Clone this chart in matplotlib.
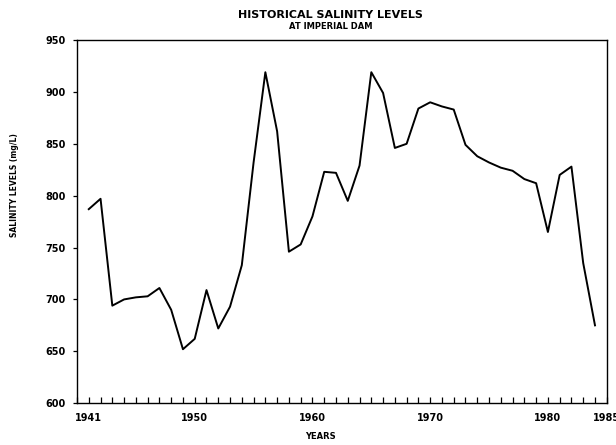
import matplotlib
matplotlib.use("Agg")
import matplotlib.pyplot as plt

# Salinity at Imperial Dam
years = list(range(1941, 1985))
salinity = [787, 797, 694, 700, 702, 703, 711, 690, 652, 662,
            709, 672, 693, 733, 832, 919, 862, 746, 753, 780,
            823, 822, 795, 829, 919, 899, 846, 850, 884, 890,
            886, 883, 849, 838, 832, 827, 824, 816, 812, 765,
            820, 828, 735, 675]

year_ticks = [1941, 1950, 1960, 1970, 1980, 1985]
level_ticks = [600, 650, 700, 750, 800, 850, 900, 950]

plt.rcParams["font.family"] = "DejaVu Sans"
plt.rcParams["font.weight"] = "bold"

fig = plt.figure(figsize=(6.16, 4.45), dpi=100)
ax = fig.add_axes([0.125, 0.094, 0.86, 0.816])

ax.plot(years, salinity, color="black", linewidth=1.4)

ax.set_xlim(1940, 1985)
ax.set_ylim(600, 950)

ax.set_xticks(year_ticks)
ax.set_xticklabels([str(y) for y in year_ticks], fontsize=7, fontweight="bold")
ax.set_xticks(range(1940, 1986), minor=True)
ax.tick_params(axis="x", which="both", direction="in", length=4, width=0.9, pad=7)

ax.set_yticks(level_ticks)
ax.set_yticklabels([str(v) for v in level_ticks], fontsize=7, fontweight="bold")
ax.tick_params(axis="y", direction="out", length=3, width=0.9, pad=5)

for side in ax.spines.values():
    side.set_linewidth(1.0)

ax.set_xlabel("YEARS", fontsize=6, fontweight="bold", va="center")
ax.xaxis.set_label_coords(0.46, -0.093)
ax.set_ylabel("SALINITY LEVELS (mg/L)", fontsize=5.5, fontweight="bold")
ax.yaxis.set_label_coords(-0.11, 0.6)

fig.text(0.537, 0.966, "HISTORICAL SALINITY LEVELS", ha="center", va="center",
         fontsize=8, fontweight="bold")
fig.text(0.537, 0.94, "AT IMPERIAL DAM", ha="center", va="center",
         fontsize=6, fontweight="bold")

fig.savefig("out.png", dpi=100)
